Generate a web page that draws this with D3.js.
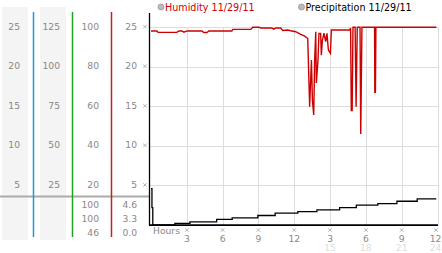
<!DOCTYPE html>
<html>
<head>
<meta charset="utf-8">
<script src="https://cdn.jsdelivr.net/npm/d3@7"></script>
<style>
  body { margin: 0; background: #fff; }
  svg { display: block; font-family: "DejaVu Sans", Verdana, sans-serif; }
</style>
</head>
<body>
<div id="wrapper"></div>
<script>
// data
const seriesNames = ["Humidity 11/29/11", "Precipitation 11/29/11"]

const tickHours = [3, 6, 9, 12, 15, 18, 21, 24]
const tickLabels = ["3", "6", "9", "12", "3", "6", "9", "12"]
const tickLabels2 = ["", "", "", "", "15", "18", "21", "24"]

const col1Ticks = [25, 20, 15, 10, 5]
const col2Ticks = [125, 100, 75, 50, 25]
const col3Ticks = [100, 80, 60, 40, 20]
const col4Ticks = [25, 20, 15, 10, 5]

const humidityStats = ["100", "100", "46"]
const precipStats = ["4.6", "3.3", "0.0"]

const humidityHours = [0, 0.5, 0.59, 2.17, 2.34, 2.59, 2.76, 3.01, 4.26, 4.43, 4.68, 4.85, 6.77, 6.86,
  8.36, 8.53, 9.03, 9.2, 10.12, 10.28, 10.45, 10.87, 11.04, 11.45, 11.71, 12.12, 12.54, 12.88,
  13.13, 13.29, 13.44, 13.52, 13.63, 13.71, 13.8, 13.85, 13.99, 14.07, 14.21, 14.27, 14.36,
  14.49, 14.63, 14.74, 14.86, 15.03, 15.11, 16.64, 16.72, 16.78, 16.85, 16.92, 17.1, 17.18,
  17.28, 17.51, 17.57, 17.67, 18.73, 18.75, 18.8, 18.84, 23.91]
const humidityValues = [98.1, 98.1, 97.4, 97.4, 98.1, 98.1, 97.5, 98.1, 98.1, 97.3, 97.3, 98.1, 98.1, 98.9,
  98.9, 100, 100, 99.6, 99.6, 99, 99.6, 99.6, 98.3, 98.6, 98.2, 97.7, 96.4, 95.5,
  94.3, 59.8, 83.4, 63.2, 55.6, 83.4, 97.7, 71.8, 83.4, 96.9, 96.9, 85.9, 93.5,
  97, 92.7, 96.9, 88.5, 86.8, 98.6, 98.6, 99.6, 57.8, 57.8, 100, 100, 59.8,
  100, 100, 46, 100, 100, 67.1, 67.1, 100, 100]

const precipHours = [0, 0.08, 0.15, 2.0, 3.26, 5.5, 6.8, 8.95, 10.4, 12.3, 13.9, 15.8, 17.2, 19.0, 20.6, 22.3, 23.9]
const precipValues = [4.6, 2.2, 0, 0.2, 0.4, 0.7, 0.9, 1.2, 1.5, 1.7, 1.9, 2.2, 2.5, 2.7, 3.0, 3.3, 3.3]

const dimensions = { width: 442, height: 253 }

const xScale = d3.scaleLinear().domain([0, 24]).range([151, 437.5])
const yScale = d3.scaleLinear().domain([0, 25]).range([225, 27.2])
const yHum = d3.scaleLinear().domain([0, 100]).range([225, 27.2])
const y125 = d3.scaleLinear().domain([0, 125]).range([225, 27.2])

const svg = d3.select("#wrapper").append("svg")
  .attr("width", dimensions.width)
  .attr("height", dimensions.height)

// left panel backgrounds
svg.append("rect").attr("x", 2).attr("y", 7).attr("width", 26).attr("height", 233).attr("fill", "#f4f4f4")
svg.append("rect").attr("x", 40).attr("y", 7).attr("width", 26).attr("height", 233).attr("fill", "#f4f4f4")

// separator line
svg.append("line").attr("x1", 0).attr("x2", 149).attr("y1", 196.5).attr("y2", 196.5)
  .attr("stroke", "#aaa").attr("stroke-width", 2)

// coloured column rules
const rules = [{x: 33, c: "#1e9ad6"}, {x: 72, c: "#1fa31f"}, {x: 111, c: "#c02020"}]
svg.selectAll(".rule").data(rules).join("line")
  .attr("x1", d => d.x + 0.5).attr("x2", d => d.x + 0.5)
  .attr("y1", 12).attr("y2", 237)
  .attr("stroke", d => d.c).attr("stroke-width", 1.5)

const labelColor = "#888"
const fs = 9.2
function column(ticks, scale, xRight) {
  svg.append("g").selectAll("text").data(ticks).join("text")
    .attr("x", xRight).attr("y", d => scale(d) + 2.5)
    .attr("text-anchor", "end").attr("font-size", fs).attr("fill", labelColor)
    .text(d => d)
}
column(col1Ticks, yScale, 20)
column(col2Ticks, y125, 60)
column(col3Ticks, yHum, 99)
column(col4Ticks, yScale, 137)

// small tick markers
const marker = d3.symbol(d3.symbolTimes, 10)
svg.append("g").selectAll("path").data(col4Ticks).join("path")
  .attr("transform", d => `translate(145,${yScale(d) - 0.5})`)
  .attr("d", marker).attr("fill", "none").attr("stroke", "#aaa").attr("stroke-width", 0.9)

// stats rows
const statRows = [207.5, 221.5, 235.5]
svg.append("g").selectAll("text").data(humidityStats).join("text")
  .attr("x", 99).attr("y", (d, i) => statRows[i])
  .attr("text-anchor", "end").attr("font-size", fs).attr("fill", labelColor).text(d => d)
svg.append("g").selectAll("text").data(precipStats).join("text")
  .attr("x", 137).attr("y", (d, i) => statRows[i])
  .attr("text-anchor", "end").attr("font-size", fs).attr("fill", labelColor).text(d => d)

// grid
const grid = svg.append("g").attr("stroke", "#ddd").attr("stroke-width", 1)
grid.selectAll(".v").data(tickHours).join("line")
  .attr("x1", d => Math.round(xScale(d)) + 0.5).attr("x2", d => Math.round(xScale(d)) + 0.5)
  .attr("y1", yScale(25)).attr("y2", yScale(0))
grid.selectAll(".h").data(col4Ticks).join("line")
  .attr("x1", 150).attr("x2", 438)
  .attr("y1", d => Math.round(yScale(d)) + 0.5).attr("y2", d => Math.round(yScale(d)) + 0.5)

// axes lines
svg.append("line").attr("x1", 149.5).attr("x2", 149.5).attr("y1", 13).attr("y2", 225)
  .attr("stroke", "#000").attr("stroke-width", 1.3)
svg.append("line").attr("x1", 149).attr("x2", 438).attr("y1", 225.2).attr("y2", 225.2)
  .attr("stroke", "#000").attr("stroke-width", 1.7)

// humidity line
const humData = humidityHours.map((h, i) => [h, humidityValues[i]])
svg.append("path")
  .attr("d", d3.line().x(d => xScale(d[0])).y(d => yHum(d[1]))(humData))
  .attr("fill", "none").attr("stroke", "#cc0000").attr("stroke-width", 1.4)

// precipitation line
const precipData = precipHours.map((h, i) => [h, precipValues[i]])
svg.append("path")
  .attr("d", d3.line().curve(d3.curveStepAfter).x(d => xScale(d[0])).y(d => yScale(d[1]))(precipData))
  .attr("fill", "none").attr("stroke", "#000").attr("stroke-width", 1.3)

// x axis labels
svg.append("text").attr("x", 153).attr("y", 234).attr("font-size", fs).attr("fill", labelColor).text("Hours")
svg.append("g").selectAll("path").data(tickHours).join("path")
  .attr("transform", d => `translate(${Math.min(xScale(d), 436)},230)`)
  .attr("d", marker).attr("fill", "none").attr("stroke", "#aaa").attr("stroke-width", 0.9)
svg.append("g").selectAll("text").data(tickHours).join("text")
  .attr("x", d => Math.min(xScale(d), 435.5)).attr("y", 241.5)
  .attr("text-anchor", "middle").attr("font-size", fs).attr("fill", labelColor)
  .text((d, i) => tickLabels[i])
svg.append("g").selectAll("text").data(tickHours).join("text")
  .attr("x", d => Math.min(xScale(d), 435.5)).attr("y", 251)
  .attr("text-anchor", "middle").attr("font-size", fs).attr("fill", "#ddd")
  .text((d, i) => tickLabels2[i])

// legend
const legendX = [161, 301.5]
const legendColors = ["#cc0000", "#000"]
seriesNames.forEach((name, i) => {
  svg.append("circle").attr("cx", legendX[i]).attr("cy", 7).attr("r", 3)
    .attr("fill", "#bbb").attr("stroke", "#999").attr("stroke-width", 0.8)
  svg.append("text").attr("x", legendX[i] + 4).attr("y", 10.5)
    .attr("font-size", 9.6).attr("fill", legendColors[i]).text(name)
})
</script>
</body>
</html>
